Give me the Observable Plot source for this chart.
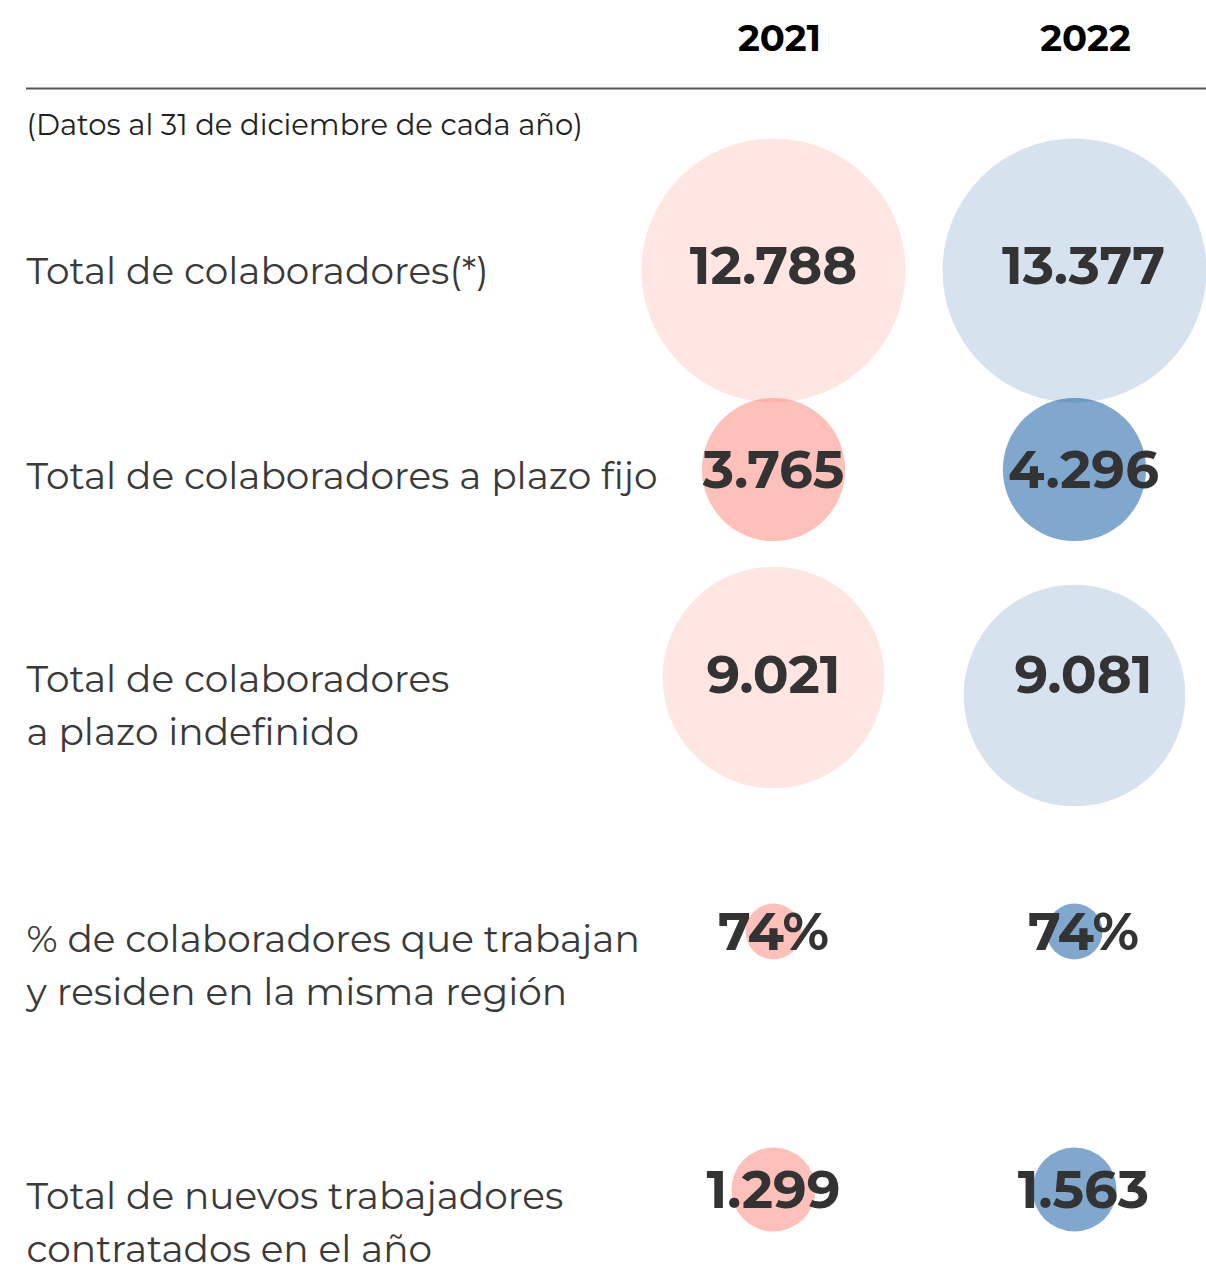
<!DOCTYPE html>
<html><head><meta charset="utf-8">
<script src="https://cdn.jsdelivr.net/npm/d3@7"></script>
<script src="https://cdn.jsdelivr.net/npm/@observablehq/plot@0.6"></script>
<style>
  html, body { margin: 0; padding: 0; background: #fff; }
  #chart svg { display: block; }
</style>
</head><body><div id="chart"></div>
<script>
// ---------- data ----------
const years = ["2021", "2022"];
const subtitle = "(Datos al 31 de diciembre de cada año)";
const rowLabels = [
  "Total de colaboradores(*)",
  "Total de colaboradores a plazo fijo",
  "Total de colaboradores\na plazo indefinido",
  "% de colaboradores que trabajan\ny residen en la misma región",
  "Total de nuevos trabajadores\ncontratados en el año"
];
const values2021 = [12788, 3765, 9021, 74, 1299];
const values2022 = [13377, 4296, 9081, 74, 1563];
const valueLabels2021 = ["12.788", "3.765", "9.021", "74%", "1.299"];
const valueLabels2022 = ["13.377", "4.296", "9.081", "74%", "1.563"];
// bubble size per row (same for both years)
const bubbleSize = [12788, 3765, 9021, 575, 1299];
const bubbleTone = ["light", "strong", "light", "strong", "strong"];

// ---------- layout (vertical slots of the infographic) ----------
const rowLabelTop = [246, 451, 654, 914, 1171];
const valueY = [267, 471, 676, 933, 1191];
const bubbleY2021 = [270, 469, 677, 931, 1189];
const bubbleY2022 = [270, 469, 695, 931, 1189];

const palette = {
  "2021": {base: "#ff8173", light: 0.2, strong: 0.5},
  "2022": {base: "#014f9b", light: 0.16, strong: 0.5}
};

const cells = [];
rowLabels.forEach((label, i) => {
  cells.push({year: "2021", row: i, value: values2021[i], text: valueLabels2021[i], size: bubbleSize[i], tone: bubbleTone[i], by: bubbleY2021[i], ty: valueY[i]});
  cells.push({year: "2022", row: i, value: values2022[i], text: valueLabels2022[i], size: bubbleSize[i], tone: bubbleTone[i], by: bubbleY2022[i], ty: valueY[i]});
});
const labelRows = rowLabels.map((label, i) => ({label, top: rowLabelTop[i]}));

const FONT = "Montserrat, Inter, 'Noto Sans', sans-serif";

const chart = Plot.plot({
  width: 1206,
  height: 1268,
  margin: 0,
  style: {fontFamily: FONT, background: "#fff"},
  x: {type: "point", domain: years, range: [773, 1074], padding: 0, axis: null},
  y: {type: "linear", domain: [0, 1268], range: [0, 1268], axis: null},
  r: {type: "sqrt", domain: [0, 12788], range: [0, 132]},
  marks: [
    // header years
    Plot.text(years.filter(y => y === "2021"), {x: d => d, y: () => 39, text: d => d, fontSize: 37, fontWeight: 700, fill: "#000", dx: 6}),
    Plot.text(years.filter(y => y === "2022"), {x: d => d, y: () => 39, text: d => d, fontSize: 37, fontWeight: 700, fill: "#000", dx: 11}),
    // header rule
    Plot.ruleY([88], {stroke: "#555", strokeWidth: 2, insetLeft: 26}),
    // subtitle
    Plot.text([subtitle], {y: () => 125, text: d => d, frameAnchor: "left", dx: 26, fontSize: 29, fill: "#222", textAnchor: "start"}),
    // bubbles
    Plot.dot(cells, {
      x: "year", y: "by", r: "size",
      fill: d => palette[d.year].base,
      fillOpacity: d => palette[d.year][d.tone],
      stroke: null
    }),
    // row labels
    Plot.text(labelRows, {
      y: "top", text: "label", frameAnchor: "left", dx: 26, textAnchor: "start",
      lineAnchor: "top", lineHeight: 1.41, fontSize: 37.5, fill: "#3a3a3a"
    }),
    // values
    Plot.text(cells.filter(d => d.year === "2021"), {x: "year", y: "ty", text: "text", fontSize: 53, fontWeight: 700, fill: "#333"}),
    Plot.text(cells.filter(d => d.year === "2022"), {x: "year", y: "ty", text: "text", fontSize: 53, fontWeight: 700, fill: "#333", dx: 9})
  ]
});
document.getElementById("chart").appendChild(chart);
</script>
</body></html>
